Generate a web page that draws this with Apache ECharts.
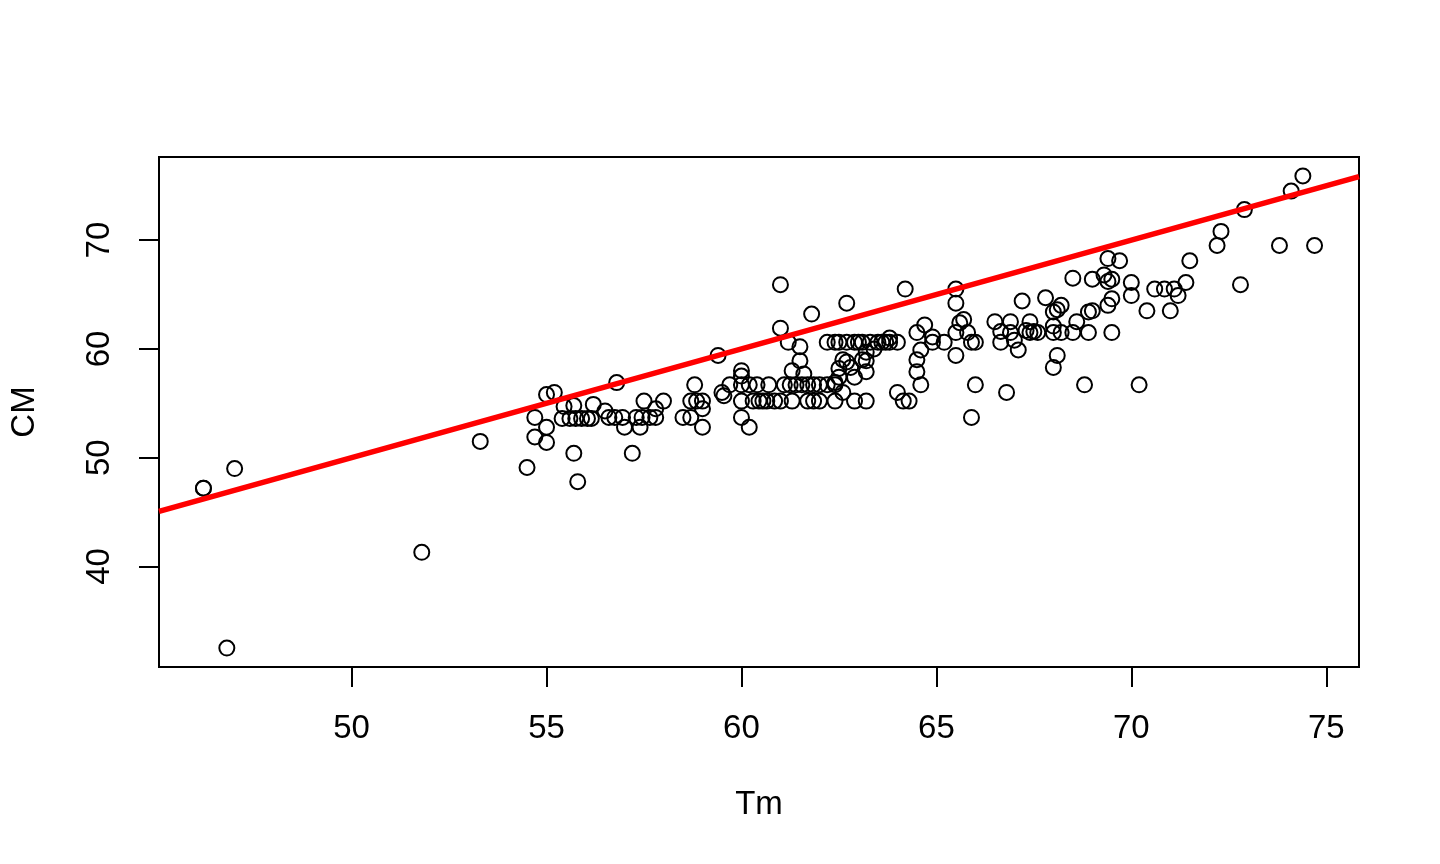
<!DOCTYPE html>
<html><head><meta charset="utf-8">
<script src="https://cdn.jsdelivr.net/npm/echarts@6/dist/echarts.min.js"></script>
<style>html,body{margin:0;padding:0;background:#fff}#c{width:1440px;height:864px}</style>
</head><body><div id="c"></div>
<script>
const tm = [
  46.2, 46.2, 47.0, 46.8, 51.8, 53.3, 54.5, 54.7, 54.7, 55.0,
  55.0, 55.0, 55.2, 55.45, 55.4, 55.7, 55.6, 55.75, 55.9, 56.05,
  56.15, 55.7, 55.8, 56.2, 56.5, 56.6, 56.75, 56.95, 56.8, 57.0,
  57.2, 57.3, 57.45, 57.4, 57.5, 57.65, 57.8, 57.8, 58.0, 58.5,
  58.7, 58.7, 58.85, 59.0, 59.0, 59.0, 58.8, 59.4, 59.5, 59.55,
  59.7, 60.0, 60.0, 60.0, 60.2, 60.0, 60.2, 60.4, 60.7, 61.1,
  61.25, 61.4, 61.55, 61.7, 61.85, 62.0, 62.2, 62.4, 60.0, 60.3,
  60.45, 60.55, 60.65, 60.85, 61.0, 61.3, 61.7, 61.85, 62.0, 62.4,
  62.9, 63.2, 61.0, 61.8, 61.0, 61.2, 61.5, 61.5, 61.3, 61.6,
  62.2, 62.4, 62.5, 62.7, 62.9, 63.0, 63.1, 63.3, 63.5, 63.6,
  63.7, 63.8, 64.0, 62.7, 64.2, 63.8, 63.2, 63.4, 63.1, 63.2,
  62.6, 62.7, 62.5, 62.9, 63.2, 62.5, 62.4, 62.6, 64.0, 64.15,
  64.3, 62.8, 64.5, 64.7, 64.9, 64.9, 65.2, 64.6, 64.5, 64.5,
  64.6, 65.5, 65.5, 65.5, 65.5, 65.6, 65.7, 65.8, 65.9, 66.0,
  66.0, 65.9, 66.5, 66.65, 66.65, 66.9, 66.9, 67.0, 67.1, 67.4,
  67.3, 67.4, 67.5, 67.6, 67.2, 67.8, 68.0, 68.1, 68.2, 68.0,
  68.0, 68.1, 68.0, 68.2, 68.5, 68.5, 68.6, 66.8, 68.8, 68.9,
  69.0, 68.9, 69.5, 69.0, 69.3, 69.4, 69.5, 69.4, 69.7, 70.0,
  70.0, 69.4, 69.5, 70.4, 70.6, 70.85, 71.1, 71.2, 71.0, 71.4,
  71.5, 70.2, 72.2, 72.3, 72.8, 72.9, 73.8, 74.1, 74.4, 74.7
];
const cm = [
  47.2, 47.2, 49.0, 32.5, 41.3, 51.5, 49.1, 53.7, 51.9, 52.8,
  51.4, 55.8, 56.0, 54.7, 53.6, 54.8, 53.6, 53.6, 53.6, 53.6,
  53.6, 50.4, 47.8, 54.9, 54.3, 53.7, 53.7, 53.7, 56.9, 52.8,
  50.4, 53.7, 53.7, 52.8, 55.2, 53.7, 53.7, 54.5, 55.2, 53.7,
  53.7, 55.2, 55.2, 55.2, 54.5, 52.8, 56.7, 59.4, 56.0, 55.7,
  56.7, 58.0, 57.5, 53.7, 52.8, 56.7, 56.7, 56.7, 56.7, 56.7,
  56.7, 56.7, 56.7, 56.7, 56.7, 56.7, 56.7, 56.7, 55.2, 55.2,
  55.2, 55.2, 55.2, 55.2, 55.2, 55.2, 55.2, 55.2, 55.2, 55.2,
  55.2, 55.2, 65.9, 63.2, 61.9, 60.6, 60.2, 58.9, 58.0, 57.7,
  60.6, 60.6, 60.6, 60.6, 60.6, 60.6, 60.6, 60.6, 60.6, 60.6,
  60.6, 60.6, 60.6, 64.2, 65.5, 61.0, 59.7, 60.0, 59.0, 58.9,
  59.0, 58.8, 58.2, 57.4, 57.9, 57.4, 56.9, 56.0, 56.0, 55.2,
  55.2, 58.3, 61.5, 62.2, 61.1, 60.6, 60.6, 59.9, 59.0, 57.9,
  56.7, 65.5, 64.2, 61.5, 59.4, 62.4, 62.7, 61.5, 60.6, 60.6,
  56.7, 53.7, 62.5, 61.6, 60.6, 62.5, 61.5, 60.8, 59.9, 62.5,
  61.7, 61.5, 61.6, 61.5, 64.4, 64.7, 63.4, 63.6, 64.0, 62.1,
  61.5, 59.4, 58.3, 61.5, 61.5, 66.5, 62.5, 56.0, 56.7, 63.4,
  63.5, 61.5, 61.5, 66.4, 66.8, 66.2, 66.4, 68.3, 68.1, 66.1,
  64.9, 64.0, 64.6, 63.5, 65.5, 65.5, 65.5, 64.9, 63.5, 66.1,
  68.1, 56.7, 69.5, 70.8, 65.9, 72.8, 69.5, 74.5, 75.9, 69.5
];
const xTicks = [50, 55, 60, 65, 70, 75];
const yTicks = [40, 50, 60, 70];
const xName = 'Tm';
const yName = 'CM';
const ablineIntercept = 0;
const ablineSlope = 1;

function rRange(v) {
  const a = Math.min(...v), b = Math.max(...v), d = (b - a) * 0.04;
  return [a - d, b + d];
}
const [xMin, xMax] = rRange(tm);
const [yMin, yMax] = rRange(cm);
const points = tm.map((x, i) => [x, cm[i]]);
const lineData = [
  [xMin, ablineIntercept + ablineSlope * xMin],
  [xMax, ablineIntercept + ablineSlope * xMax]
];
const font = '"Liberation Sans", Arial, Helvetica, sans-serif';
const txt = { fontFamily: font, fontSize: 33, color: '#000' };

const chart = echarts.init(document.getElementById('c'), null, { renderer: 'canvas' });
chart.setOption({
  animation: false,
  backgroundColor: '#fff',
  grid: { left: 158, right: 81, top: 157, bottom: 197, show: true,
          borderColor: '#000', borderWidth: 2, backgroundColor: 'transparent' },
  xAxis: {
    type: 'value', min: xMin, max: xMax,
    name: xName, nameLocation: 'middle', nameGap: 121, nameTextStyle: txt,
    axisLine: { show: false }, splitLine: { show: false },
    axisTick: { show: true, length: 20, lineStyle: { color: '#000', width: 2 }, customValues: xTicks },
    axisLabel: Object.assign({ customValues: xTicks, margin: 45 }, txt)
  },
  yAxis: {
    type: 'value', min: yMin, max: yMax,
    name: yName, nameLocation: 'middle', nameGap: 118, nameTextStyle: txt, nameRotate: 90,
    axisLine: { show: false }, splitLine: { show: false },
    axisTick: { show: true, length: 20, lineStyle: { color: '#000', width: 2 }, customValues: yTicks },
    axisLabel: Object.assign({ customValues: yTicks, margin: 43, rotate: 90 }, txt)
  },
  series: [
    { type: 'scatter', data: points, symbol: 'circle', symbolSize: 15, z: 2,
      itemStyle: { color: 'rgba(0,0,0,0)', borderColor: '#000', borderWidth: 2, opacity: 1 },
      emphasis: { disabled: true } },
    { type: 'line', data: lineData, symbol: 'none', z: 3, clip: true,
      lineStyle: { color: '#ff0000', width: 5.5 }, emphasis: { disabled: true } }
  ]
});
</script>
</body></html>
